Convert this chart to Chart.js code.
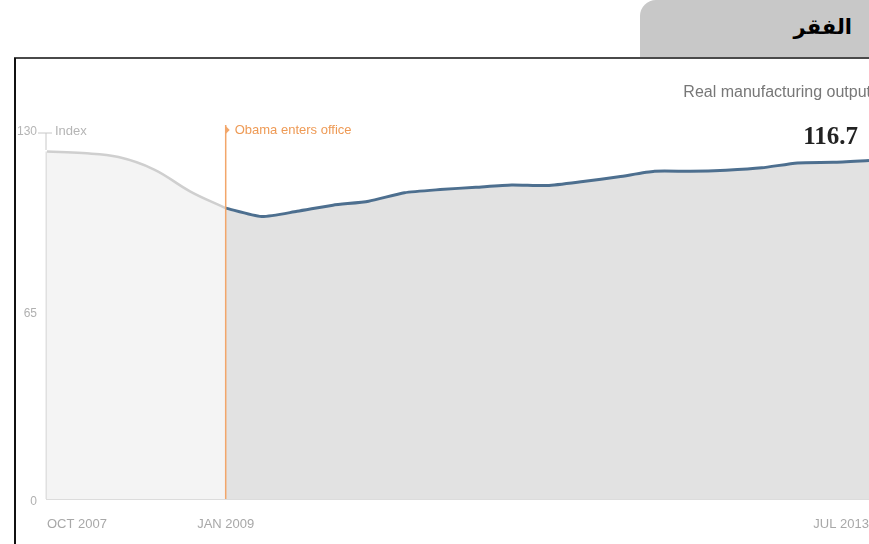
<!DOCTYPE html>
<html>
<head>
<meta charset="utf-8">
<script src="https://cdn.jsdelivr.net/npm/chart.js@4"></script>
<style>
  html, body { margin: 0; padding: 0; background: #fff; }
  body { width: 869px; height: 544px; position: relative; overflow: hidden; }
  #tab {
    position: absolute; left: 640px; top: 0; width: 229px; height: 58px;
    background: #c8c8c8; border-top-left-radius: 16px;
  }
  #tab span {
    position: absolute; right: 17px; top: 15px;
    font: bold 21px "DejaVu Sans", sans-serif; color: #000;
  }
  #hline { position: absolute; left: 14px; top: 57px; width: 855px; height: 2px; background: #4a4a4a; }
  #vline { position: absolute; left: 14px; top: 58px; width: 2px; height: 486px; background: #111; }
  #chart { position: absolute; left: 0; top: 0; }
</style>
</head>
<body>
<div id="tab"><span>الفقر</span></div>
<canvas id="chart" width="869" height="544"></canvas>
<div id="hline"></div>
<div id="vline"></div>
<script>
// months counted from OCT 2007
var preMonths = [0, 3, 6, 9, 12, 15];
var preValues = [119.8, 119.3, 117.9, 113.6, 106.1, 100.3];
var postMonths = [15, 18, 21, 24, 27, 30, 33, 36, 39, 42, 45, 48, 51, 54, 57, 60, 63, 66, 69];
var postValues = [100.3, 97.4, 99.2, 101.3, 102.7, 105.6, 106.7, 107.5, 108.3, 108.1, 109.5, 111.1, 113.0, 113.0, 113.4, 114.2, 115.9, 116.1, 116.7];
var xTicks = [0, 15, 69];
var xTickLabels = ["OCT 2007", "JAN 2009", "JUL 2013"];
var yTicks = [0, 65, 130];
var yMax = 130;
var obamaMonth = 15;
var lastValue = "116.7";

function pts(xs, ys) {
  return xs.map(function (x, i) { return { x: x, y: ys[i] }; });
}

var notes = {
  id: "notes",
  beforeDatasetsDraw: function (chart) {
    // light axis edge under the grey area
    var c = chart.ctx, xs = chart.scales.x, ys = chart.scales.y;
    var x0 = xs.getPixelForValue(preMonths[0]);
    c.save();
    c.strokeStyle = "#e0e0e0";
    c.lineWidth = 3;
    c.beginPath();
    c.moveTo(x0, ys.getPixelForValue(preValues[0]));
    c.lineTo(x0, ys.getPixelForValue(0));
    c.stroke();
    c.restore();
  },
  afterDatasetsDraw: function (chart) {
    var c = chart.ctx, xs = chart.scales.x, ys = chart.scales.y;
    var ox = xs.getPixelForValue(obamaMonth);
    c.save();
    // Obama marker line
    c.strokeStyle = "#f2a66a";
    c.lineWidth = 1.5;
    c.beginPath();
    c.moveTo(ox, 125);
    c.lineTo(ox, ys.getPixelForValue(0));
    c.stroke();
    c.fillStyle = "#f2a66a";
    c.beginPath();
    c.moveTo(ox, 126);
    c.lineTo(ox + 4, 130);
    c.lineTo(ox, 134);
    c.fill();
    c.fillStyle = "#ee9a55";
    c.font = "13px 'Liberation Sans', Arial, sans-serif";
    c.textBaseline = "middle";
    c.textAlign = "left";
    c.fillText("Obama enters office", ox + 9, 130);
    // top of the index axis
    c.fillStyle = "#b5b5b5";
    c.fillText("Index", 55, 131);
    c.textAlign = "right";
    c.font = "12px 'Liberation Sans', Arial, sans-serif";
    c.fillText(String(yMax), 37, 132);
    c.strokeStyle = "#c8c8c8";
    c.lineWidth = 1;
    c.beginPath();
    c.moveTo(38, 133);
    c.lineTo(52, 133);
    c.moveTo(46, 133);
    c.lineTo(46, 150);
    c.stroke();
    // right side labels
    c.fillStyle = "#777";
    c.font = "16px 'Liberation Sans', Arial, sans-serif";
    c.fillText("Real manufacturing output", 871, 93);
    c.fillStyle = "#222";
    c.font = "bold 25px 'Liberation Serif', 'DejaVu Serif', serif";
    c.fillText(lastValue, 858, 138);
    c.restore();
  }
};

new Chart(document.getElementById("chart").getContext("2d"), {
  type: "line",
  data: {
    datasets: [
      {
        data: pts(preMonths, preValues),
        borderColor: "#cfcfcf",
        borderWidth: 2.5,
        backgroundColor: "#f4f4f4",
        fill: "origin",
        tension: 0.4,
        pointRadius: 0,
      },
      {
        data: pts(postMonths, postValues),
        borderColor: "#4d6f8f",
        borderWidth: 3,
        backgroundColor: "#e2e2e2",
        fill: "origin",
        tension: 0.2,
        pointRadius: 0,
      },
    ],
  },
  options: {
    responsive: false,
    animation: false,
    layout: { autoPadding: false, padding: { top: 122, left: 0, right: 0, bottom: 0 } },
    plugins: { legend: { display: false }, tooltip: { enabled: false } },
    scales: {
      x: {
        type: "linear",
        min: 0,
        max: 69,
        grid: { display: false },
        border: { display: true, color: "#dcdcdc", width: 2 },
        afterBuildTicks: function (s) {
          s.ticks = xTicks.map(function (v) { return { value: v }; });
        },
        afterFit: function (s) {
          s.height = 45;
          s.paddingLeft = 0;
          s.paddingRight = 0;
        },
        ticks: {
          align: "inner",
          maxRotation: 0,
          padding: 10,
          color: "#a8a8a8",
          font: { size: 13, family: "'Liberation Sans', Arial, sans-serif" },
          callback: function (v) { return xTickLabels[xTicks.indexOf(v)]; },
        },
      },
      y: {
        min: 0,
        max: yMax,
        grid: { display: false },
        border: { display: false },
        afterBuildTicks: function (s) {
          s.ticks = yTicks.map(function (v) { return { value: v }; });
        },
        afterFit: function (s) { s.width = 47; },
        ticks: {
          padding: 2,
          labelOffset: 3,
          color: "#b0b0b0",
          font: { size: 12, family: "'Liberation Sans', Arial, sans-serif" },
          // the top value is written with the "Index" note
          callback: function (v) { return v === yMax ? "" : String(v); },
        },
      },
    },
  },
  plugins: [notes],
});
</script>
</body>
</html>
